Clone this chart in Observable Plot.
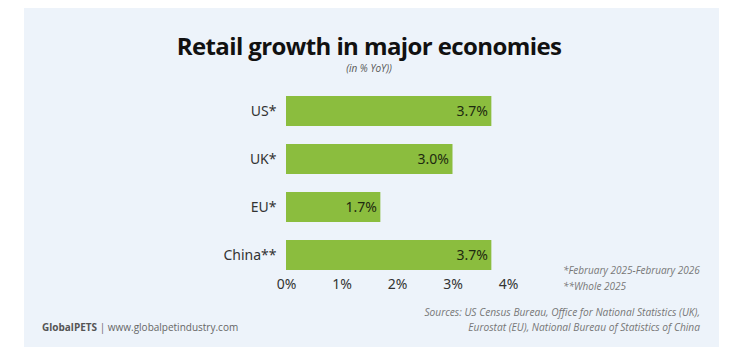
<!DOCTYPE html>
<html>
<head>
<meta charset="utf-8">
<script src="https://cdn.jsdelivr.net/npm/d3@7"></script>
<script src="https://cdn.jsdelivr.net/npm/@observablehq/plot@0.6"></script>
<style>
  html, body { margin: 0; padding: 0; background: #ffffff; }
  #wrap { position: relative; width: 738px; height: 359px; overflow: hidden; }
  #panel { position: absolute; left: 24px; top: 8px; width: 695px; height: 339px; background: #edf3fa; }
  #title { position: absolute; left: 0; width: 738px; top: 33px; line-height: 26px; text-align: center;
    font-family: "Open Sans", sans-serif; font-weight: 700; font-size: 24px; color: #111; letter-spacing: -0.6px; }
  #subtitle { position: absolute; left: 0; width: 738px; top: 62px; line-height: 12px; text-align: center;
    font-family: "Open Sans", sans-serif; font-style: italic; font-size: 10px; color: #555; }
  #chart { position: absolute; left: 0; top: 0; }
  .note { position: absolute; font-family: "Open Sans", sans-serif; font-style: italic; font-size: 10px; line-height: 13px; color: #777; white-space: nowrap; }
  #brand { position: absolute; left: 42px; top: 321px; line-height: 13px; font-family: "Open Sans", sans-serif; font-size: 10px; color: #666; white-space: nowrap; }
  #brand b { color: #555; }
</style>
</head>
<body>
<div id="wrap">
  <div id="panel"></div>
  <div id="title">Retail growth in major economies</div>
  <div id="subtitle">(in % YoY))</div>
  <div id="chart"></div>
  <div class="note" style="left:563px; top:264px;">*February 2025-February 2026</div>
  <div class="note" style="left:563px; top:280px;">**Whole 2025</div>
  <div class="note" style="right:38px; top:306px; text-align:right; font-size:10.2px;">Sources: US Census Bureau, Office for National Statistics (UK),</div>
  <div class="note" style="right:38px; top:321px; text-align:right; font-size:10.2px;">Eurostat (EU), National Bureau of Statistics of China</div>
  <div id="brand"><b>GlobalPETS</b> | www.globalpetindustry.com</div>
</div>
<script>
const categories = ["US*", "UK*", "EU*", "China**"];
const values = [3.7, 3.0, 1.7, 3.7];
const valueLabels = ["3.7%", "3.0%", "1.7%", "3.7%"];
const xTicks = [0, 1, 2, 3, 4];
const xTickLabels = ["0%", "1%", "2%", "3%", "4%"];

const data = categories.map((c, i) => ({ cat: c, value: values[i], label: valueLabels[i] }));

const chart = Plot.plot({
  width: 738,
  height: 359,
  marginLeft: 286,
  marginRight: 230,
  marginTop: 86,
  marginBottom: 80,
  style: { background: "transparent", fontFamily: "'Noto Sans', sans-serif", fontSize: "14px", color: "#222" },
  x: { domain: [0, 4] },
  y: { domain: categories, paddingInner: 0.38, paddingOuter: 0.19 },
  marks: [
    Plot.barX(data, { y: "cat", x: "value", fill: "#8bbd3e" }),
    Plot.text(data, { y: "cat", x: "value", text: "label", textAnchor: "end", dx: -4, fill: "#1e2a10", fontSize: 14 }),
    Plot.axisX({ ticks: xTicks, tickFormat: (d) => xTickLabels[xTicks.indexOf(d)], tickSize: 0, tickPadding: 0, label: null, fontSize: 14, fill: "#333" }),
    Plot.axisY({ tickSize: 0, tickPadding: 10, label: null, fontSize: 14, fill: "#333" })
  ]
});
document.getElementById("chart").appendChild(chart);
</script>
</body>
</html>
